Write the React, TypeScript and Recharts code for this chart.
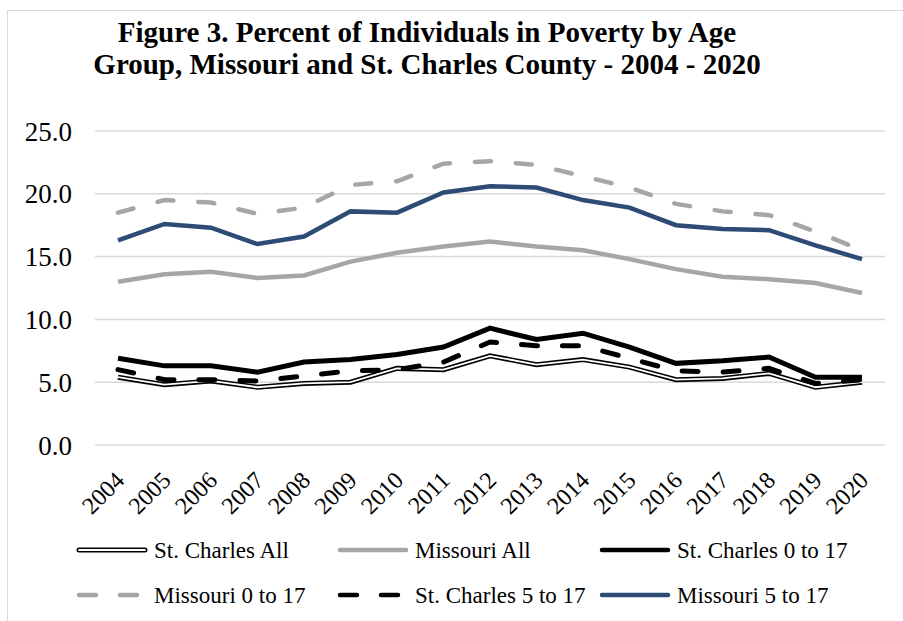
// Figure 3 — Percent of individuals in poverty by age group, Missouri vs St. Charles County.
// Multi-series LineChart with a hand-drawn two-row legend (Excel style).

import React from 'react'
import {
  LineChart,
  Line,
  XAxis,
  YAxis,
  CartesianGrid,
  Legend,
} from 'recharts'

const FONT = '"Liberation Serif", "Times New Roman", serif'

const years = [
  '2004', '2005', '2006', '2007', '2008', '2009', '2010', '2011', '2012',
  '2013', '2014', '2015', '2016', '2017', '2018', '2019', '2020',
]

const stCharlesAll = [5.4, 4.8, 5.1, 4.6, 4.9, 5.0, 6.1, 6.0, 7.1, 6.4, 6.8, 6.2, 5.2, 5.3, 5.7, 4.6, 5.0]
const missouriAll = [13.0, 13.6, 13.8, 13.3, 13.5, 14.6, 15.3, 15.8, 16.2, 15.8, 15.5, 14.8, 14.0, 13.4, 13.2, 12.9, 12.1]
const stCharles0to17 = [6.9, 6.3, 6.3, 5.8, 6.6, 6.8, 7.2, 7.8, 9.3, 8.4, 8.9, 7.8, 6.5, 6.7, 7.0, 5.4, 5.4]
const missouri0to17 = [18.5, 19.5, 19.3, 18.4, 18.9, 20.7, 21.0, 22.4, 22.6, 22.3, 21.4, 20.5, 19.2, 18.6, 18.3, 17.0, 15.5]
const stCharles5to17 = [6.0, 5.2, 5.2, 5.1, 5.5, 5.9, 6.0, 6.6, 8.2, 7.9, 7.9, 6.9, 5.9, 5.8, 6.1, 4.9, 5.2]
const missouri5to17 = [16.3, 17.6, 17.3, 16.0, 16.6, 18.6, 18.5, 20.1, 20.6, 20.5, 19.5, 18.9, 17.5, 17.2, 17.1, 15.9, 14.8]

const yTicks = [0, 5, 10, 15, 20, 25]

const data = years.map((year, i) => ({
  year,
  stCharlesAll: stCharlesAll[i],
  missouriAll: missouriAll[i],
  stCharles0to17: stCharles0to17[i],
  missouri0to17: missouri0to17[i],
  stCharles5to17: stCharles5to17[i],
  missouri5to17: missouri5to17[i],
}))

const GRAY = '#a6a6a6'
const BLUE = '#2e4b76'
const DASH = '16 25'

// legend entries in reading order (row by row)
const legendItems = [
  { label: 'St. Charles All', kind: 'double' },
  { label: 'Missouri All', kind: 'solid', color: GRAY },
  { label: 'St. Charles 0 to 17', kind: 'solid', color: '#000' },
  { label: 'Missouri 0 to 17', kind: 'dash', color: GRAY },
  { label: 'St. Charles 5 to 17', kind: 'dash', color: '#000' },
  { label: 'Missouri 5 to 17', kind: 'solid', color: BLUE },
]

function LegendBox() {
  const colX = [77, 338, 600]
  const rowY = [25, 70]
  return (
    <svg width={903} height={90} style={{ display: 'block' }}>
      {legendItems.map((item, i) => {
        const x = colX[i % 3]
        const y = rowY[Math.floor(i / 3)]
        return (
          <g key={item.label}>
            {item.kind === 'double' ? (
              <>
                <line x1={x + 2} x2={x + 68} y1={y} y2={y} stroke="#000" strokeWidth={5} strokeLinecap="round" />
                <line x1={x + 2} x2={x + 68} y1={y} y2={y} stroke="#fff" strokeWidth={1.8} strokeLinecap="round" />
              </>
            ) : (
              <line
                x1={x + 2}
                x2={x + 68}
                y1={y}
                y2={y}
                stroke={item.color}
                strokeWidth={4.5}
                strokeLinecap="round"
                strokeDasharray={item.kind === 'dash' ? '17 24' : undefined}
              />
            )}
            <text x={x + 77} y={y + 8} fontSize={23} fontFamily={FONT} fill="#000">
              {item.label}
            </text>
          </g>
        )
      })}
    </svg>
  )
}

function YearTick({ x, y, payload }: any) {
  const ax = x + 2
  const ay = y + 23
  return (
    <text
      x={ax}
      y={ay}
      transform={`rotate(-45, ${ax}, ${ay})`}
      textAnchor="end"
      dominantBaseline="central"
      fontSize={24}
      fontFamily={FONT}
      fill="#000"
    >
      {payload.value}
    </text>
  )
}

export default function App() {
  return (
    <div style={{ position: 'absolute', left: 0, top: 0, width: 903, height: 621, background: '#fff' }}>
      <div
        style={{
          position: 'absolute',
          left: 7,
          top: 10,
          width: 1000,
          height: 1000,
          border: '1.5px solid #d9d9d9',
          boxSizing: 'border-box',
        }}
      />
      <div
        style={{
          position: 'absolute',
          left: 0,
          top: 16,
          width: 854,
          textAlign: 'center',
          fontFamily: FONT,
          fontWeight: 'bold',
          fontSize: 29,
          lineHeight: '32px',
          color: '#000',
        }}
      >
        Figure 3. Percent of Individuals in Poverty by Age
        <br />
        Group, Missouri and St. Charles County - 2004 - 2020
      </div>
      <div style={{ position: 'absolute', left: 0, top: 0 }}>
        <LineChart width={903} height={621} data={data} margin={{ top: 131, right: 18, bottom: 0, left: 0 }}>
          <CartesianGrid vertical={false} stroke="#d9d9d9" strokeWidth={1.5} />
          <XAxis
            dataKey="year"
            height={176}
            axisLine={false}
            tickLine={false}
            interval={0}
            padding={{ left: 23, right: 23 }}
            tick={<YearTick />}
          />
          <YAxis
            width={95}
            domain={[0, 25]}
            ticks={yTicks}
            tickFormatter={(v: number) => v.toFixed(1)}
            axisLine={false}
            tickLine={false}
            tickSize={6}
            tickMargin={17}
            tick={{ fontSize: 27, fontFamily: FONT, fill: '#000' }}
          />
          <Legend
            layout="vertical"
            align="center"
            verticalAlign="middle"
            wrapperStyle={{ top: 525, left: 0, width: 903 }}
            content={() => <LegendBox />}
          />
          {/* St. Charles All drawn as a double line: black under white */}
          <Line dataKey="stCharlesAll" stroke="#000" strokeWidth={5} dot={false} isAnimationActive={false} legendType="none" />
          <Line dataKey="stCharlesAll" stroke="#fff" strokeWidth={1.8} dot={false} isAnimationActive={false} legendType="none" />
          <Line dataKey="missouriAll" stroke={GRAY} strokeWidth={4.5} dot={false} isAnimationActive={false} />
          <Line dataKey="stCharles0to17" stroke="#000" strokeWidth={5} dot={false} isAnimationActive={false} />
          <Line
            dataKey="missouri0to17"
            stroke={GRAY}
            strokeWidth={4.5}
            strokeDasharray={DASH}
            strokeLinecap="round"
            dot={false}
            isAnimationActive={false}
          />
          <Line
            dataKey="stCharles5to17"
            stroke="#000"
            strokeWidth={5}
            strokeDasharray={DASH}
            strokeLinecap="round"
            dot={false}
            isAnimationActive={false}
          />
          <Line dataKey="missouri5to17" stroke={BLUE} strokeWidth={4.5} dot={false} isAnimationActive={false} />
        </LineChart>
      </div>
    </div>
  )
}
